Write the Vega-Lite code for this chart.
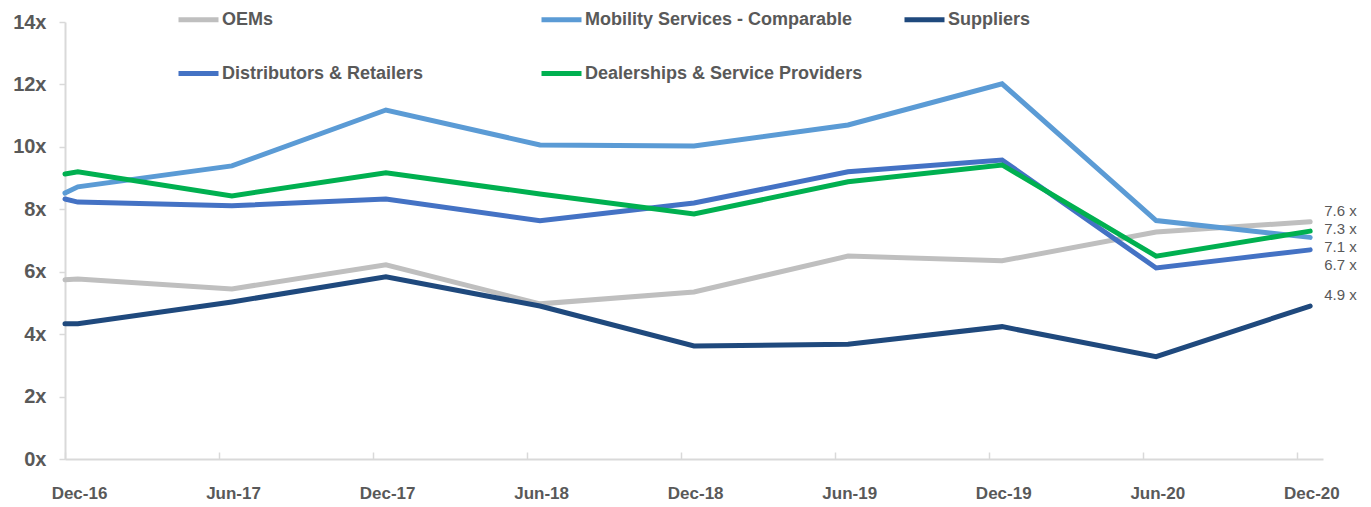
{
  "$schema": "https://vega.github.io/schema/vega-lite/v6.json",
  "width": 1258,
  "height": 437,
  "autosize": {"type": "none"},
  "padding": {"left": 65, "top": 22, "right": 48, "bottom": 48},
  "background": "white",
  "config": {"view": {"stroke": null}, "font": "Liberation Sans"},
  "data": {
    "values": [
      {"series": "OEMs", "month": 0, "value": 5.74},
      {"series": "OEMs", "month": 0.5, "value": 5.77},
      {"series": "OEMs", "month": 6.5, "value": 5.45},
      {"series": "OEMs", "month": 12.5, "value": 6.22},
      {"series": "OEMs", "month": 18.5, "value": 4.97},
      {"series": "OEMs", "month": 24.5, "value": 5.35},
      {"series": "OEMs", "month": 30.5, "value": 6.5},
      {"series": "OEMs", "month": 36.5, "value": 6.35},
      {"series": "OEMs", "month": 42.5, "value": 7.27},
      {"series": "OEMs", "month": 48.5, "value": 7.6},
      {"series": "Mobility Services - Comparable", "month": 0, "value": 8.52},
      {"series": "Mobility Services - Comparable", "month": 0.5, "value": 8.72},
      {"series": "Mobility Services - Comparable", "month": 6.5, "value": 9.39},
      {"series": "Mobility Services - Comparable", "month": 12.5, "value": 11.18},
      {"series": "Mobility Services - Comparable", "month": 18.5, "value": 10.06},
      {"series": "Mobility Services - Comparable", "month": 24.5, "value": 10.03},
      {"series": "Mobility Services - Comparable", "month": 30.5, "value": 10.7},
      {"series": "Mobility Services - Comparable", "month": 36.5, "value": 12.02},
      {"series": "Mobility Services - Comparable", "month": 42.5, "value": 7.64},
      {"series": "Mobility Services - Comparable", "month": 48.5, "value": 7.1},
      {"series": "Suppliers", "month": 0, "value": 4.33},
      {"series": "Suppliers", "month": 0.5, "value": 4.33},
      {"series": "Suppliers", "month": 6.5, "value": 5.03},
      {"series": "Suppliers", "month": 12.5, "value": 5.84},
      {"series": "Suppliers", "month": 18.5, "value": 4.9},
      {"series": "Suppliers", "month": 24.5, "value": 3.62},
      {"series": "Suppliers", "month": 30.5, "value": 3.68},
      {"series": "Suppliers", "month": 36.5, "value": 4.24},
      {"series": "Suppliers", "month": 42.5, "value": 3.28},
      {"series": "Suppliers", "month": 48.5, "value": 4.9},
      {"series": "Distributors & Retailers", "month": 0, "value": 8.33},
      {"series": "Distributors & Retailers", "month": 0.5, "value": 8.23},
      {"series": "Distributors & Retailers", "month": 6.5, "value": 8.11},
      {"series": "Distributors & Retailers", "month": 12.5, "value": 8.33},
      {"series": "Distributors & Retailers", "month": 18.5, "value": 7.63},
      {"series": "Distributors & Retailers", "month": 24.5, "value": 8.2},
      {"series": "Distributors & Retailers", "month": 30.5, "value": 9.2},
      {"series": "Distributors & Retailers", "month": 36.5, "value": 9.58},
      {"series": "Distributors & Retailers", "month": 42.5, "value": 6.12},
      {"series": "Distributors & Retailers", "month": 48.5, "value": 6.7},
      {"series": "Dealerships & Service Providers", "month": 0, "value": 9.13},
      {"series": "Dealerships & Service Providers", "month": 0.5, "value": 9.2},
      {"series": "Dealerships & Service Providers", "month": 6.5, "value": 8.43},
      {"series": "Dealerships & Service Providers", "month": 12.5, "value": 9.17},
      {"series": "Dealerships & Service Providers", "month": 18.5, "value": 8.49},
      {"series": "Dealerships & Service Providers", "month": 24.5, "value": 7.85},
      {"series": "Dealerships & Service Providers", "month": 30.5, "value": 8.88},
      {"series": "Dealerships & Service Providers", "month": 36.5, "value": 9.42},
      {"series": "Dealerships & Service Providers", "month": 42.5, "value": 6.5},
      {"series": "Dealerships & Service Providers", "month": 48.5, "value": 7.3}
    ]
  },
  "encoding": {
    "x": {
      "field": "month",
      "type": "quantitative",
      "scale": {"domain": [0, 49], "nice": false, "zero": false},
      "axis": {
        "values": [0, 6, 12, 18, 24, 30, 36, 42, 48],
        "labelExpr": "['Dec-16','Jun-17','Dec-17','Jun-18','Dec-18','Jun-19','Dec-19','Jun-20','Dec-20'][round(datum.value/6)]",
        "title": null,
        "grid": false,
        "domainColor": "#D9D9D9",
        "domainWidth": 2,
        "tickColor": "#D9D9D9",
        "tickWidth": 1.5,
        "tickSize": -7,
        "labelOffset": 14,
        "labelPadding": 33,
        "labelFont": "Liberation Sans",
        "labelFontSize": 17,
        "labelFontWeight": "bold",
        "labelColor": "#595959",
        "labelFlush": false,
        "labelOverlap": false
      }
    },
    "y": {
      "field": "value",
      "type": "quantitative",
      "scale": {"domain": [0, 14], "nice": false},
      "axis": {
        "values": [0, 2, 4, 6, 8, 10, 12, 14],
        "labelExpr": "datum.value + 'x'",
        "title": null,
        "grid": false,
        "domainColor": "#D9D9D9",
        "domainWidth": 2,
        "tickColor": "#D9D9D9",
        "tickWidth": 1.5,
        "tickSize": 6,
        "labelPadding": 13,
        "labelFont": "Liberation Sans",
        "labelFontSize": 20,
        "labelFontWeight": "bold",
        "labelColor": "#595959",
        "labelFlush": false,
        "labelOverlap": false
      }
    }
  },
  "layer": [
    {
      "mark": {"type": "line", "strokeWidth": 5, "strokeCap": "round"},
      "encoding": {
        "color": {
          "field": "series",
          "type": "nominal",
          "scale": {
            "domain": ["OEMs", "Mobility Services - Comparable", "Suppliers", "Distributors & Retailers", "Dealerships & Service Providers"],
            "range": ["#BFBFBF", "#5B9BD5", "#1F497D", "#4472C4", "#00B050"]
          },
          "legend": {
            "orient": "none",
            "legendX": 111,
            "legendY": -25,
            "direction": "horizontal",
            "columns": 3,
            "title": null,
            "symbolType": "stroke",
            "symbolStrokeWidth": 5,
            "symbolSize": 1600,
            "labelFont": "Liberation Sans",
            "labelFontSize": 18,
            "labelFontWeight": "bold",
            "labelColor": "#595959",
            "labelOffset": 1,
            "labelLimit": 500,
            "gridAlign": "all",
            "columnPadding": 31,
            "rowPadding": 21,
            "padding": 0
          }
        }
      }
    },
    {
      "transform": [
        {"filter": "datum.month == 48.5"},
        {"calculate": "format(datum.value, '.1f') + ' x'", "as": "label"}
      ],
      "layer": [
        {"transform": [{"filter": "datum.series == 'OEMs'"}], "mark": {"type": "text", "align": "left", "baseline": "middle", "dx": 14, "dy": -11, "fontSize": 15, "color": "#595959", "font": "Liberation Sans"}, "encoding": {"text": {"field": "label"}}},
        {"transform": [{"filter": "datum.series == 'Dealerships & Service Providers'"}], "mark": {"type": "text", "align": "left", "baseline": "middle", "dx": 14, "dy": -2, "fontSize": 15, "color": "#595959", "font": "Liberation Sans"}, "encoding": {"text": {"field": "label"}}},
        {"transform": [{"filter": "datum.series == 'Mobility Services - Comparable'"}], "mark": {"type": "text", "align": "left", "baseline": "middle", "dx": 14, "dy": 10, "fontSize": 15, "color": "#595959", "font": "Liberation Sans"}, "encoding": {"text": {"field": "label"}}},
        {"transform": [{"filter": "datum.series == 'Distributors & Retailers'"}], "mark": {"type": "text", "align": "left", "baseline": "middle", "dx": 14, "dy": 15, "fontSize": 15, "color": "#595959", "font": "Liberation Sans"}, "encoding": {"text": {"field": "label"}}},
        {"transform": [{"filter": "datum.series == 'Suppliers'"}], "mark": {"type": "text", "align": "left", "baseline": "middle", "dx": 14, "dy": -11, "fontSize": 15, "color": "#595959", "font": "Liberation Sans"}, "encoding": {"text": {"field": "label"}}}
      ]
    }
  ]
}
